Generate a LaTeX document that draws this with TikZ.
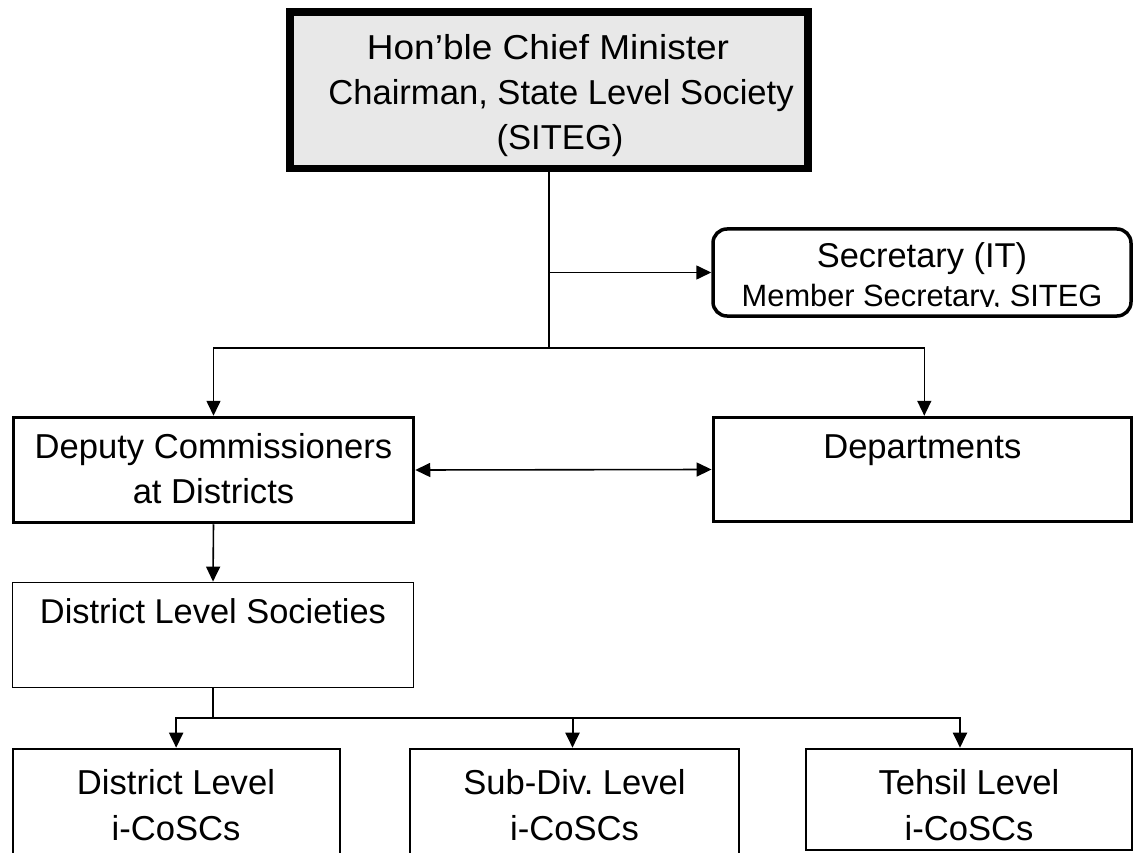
\documentclass[tikz,border=0pt]{standalone}
\usepackage{fontspec}
\setmainfont{Liberation Sans}
\usepackage{graphicx}
\usetikzlibrary{arrows.meta}
\definecolor{boxgray}{HTML}{E8E8E8}
\newcommand{\lbl}[4]{\scalebox{#1}[1]{\fontsize{#2}{#3}\selectfont\begin{tabular}[t]{@{}c@{}}#4\end{tabular}}}
\begin{document}
\begin{tikzpicture}[x=1pt,y=-1pt,
  txt/.style={anchor=base, inner sep=0pt, outer sep=0pt},
  boxthick/.style={draw, line width=3.5pt, inner sep=0pt},
  boxthin/.style={draw, line width=1.8pt, inner sep=0pt},
  link/.style={line width=1.6pt},
  arr/.style={line width=1.6pt, -{Triangle[length=15pt,width=14pt]}},
  arrboth/.style={line width=1.6pt, {Triangle[length=15pt,width=14pt]}-{Triangle[length=15pt,width=14pt]}},
  lowlink/.style={line width=2pt},
  lowarr/.style={line width=2pt, -{Triangle[length=15pt,width=14pt]}}]
\useasboundingbox (0,0) rectangle (1133,853);
\clip (0,0) rectangle (1133,853);

% boxes
\node[draw, fill=boxgray, line width=7pt, inner sep=0pt, minimum width=519pt, minimum height=157pt] (chief) at (549,90.5) {};
\draw[line width=1.5pt] ([xshift=7pt,yshift=-7pt]chief.north west) rectangle ([xshift=-7pt,yshift=7pt]chief.south east);
\node[boxthick, rounded corners=14pt, minimum width=418pt, minimum height=87pt] (sec) at (922,272.5) {};
\node[boxthick, minimum width=400pt, minimum height=105pt] (dc) at (213.5,470) {};
\node[boxthick, minimum width=418pt, minimum height=104pt] (dept) at (922.3,469.5) {};
\node[boxthin, minimum width=401pt, minimum height=105pt] (dls) at (213,635) {};
\node[draw, line width=2pt, inner sep=0pt, minimum width=326.7pt, minimum height=121.3pt] (b1) at (176.15,809.35) {};
\node[draw, line width=2pt, inner sep=0pt, minimum width=329pt, minimum height=121.3pt] (b2) at (574.5,809.35) {};
\node[draw, line width=2pt, inner sep=0pt, minimum width=326pt, minimum height=101.3pt] (b3) at (969,799.35) {};

% connectors
\coordinate (jsec) at (549,272.5);
\coordinate (hub) at (549,348);
\coordinate (j2) at (213,718);
\draw[link] (chief.south) -- (hub);
\draw[arr] (jsec) -- (sec.west);
\draw[arr] (hub) -| (dc.north);
\draw[arr] (hub) -| ([xshift=2pt]dept.north);
\draw[arrboth] (dc.east) -- (dept.west);
\draw[arr] (dc.south) -- (dls.north);
\draw[lowlink] (dls.south) -- (j2);
\draw[lowarr] (j2) -| (b1.north);
\draw[lowarr] (j2) -| ([xshift=-2pt]b2.north);
\draw[lowarr] (j2) -| ([xshift=-9pt]b3.north);

% texts
\node[txt] (t-chief1) at (548,60) {\lbl{1.07}{34.6}{45}{Hon’ble Chief Minister}};
\node[txt] (t-chief2) at (561,105) {\lbl{1}{34.6}{45}{Chairman, State Level Society}};
\node[txt] (t-chief3) at (560,150) {\lbl{1}{34.6}{45}{(SITEG)}};
\node[txt] (t-sec1) at (922,268) {\lbl{1}{34.4}{40}{Secretary (IT)}};
\begin{scope}
\clip (712,280) rectangle (1132,306.3);
\node[txt] (t-sec2) at (922,306) {\lbl{1}{30.8}{36}{Member Secretary, SITEG}};
\end{scope}
\node[txt] (t-dc) at (213.5,458) {\lbl{1}{34.6}{45}{Deputy Commissioners\\at Districts}};
\node[txt] (t-dept) at (922.3,458) {\lbl{1}{34.6}{45}{Departments}};
\node[txt] (t-dls) at (213,623) {\lbl{1}{34.4}{45}{District Level Societies}};
\node[txt] (t-b1) at (176,794) {\lbl{1}{34.6}{46}{District Level\\i-CoSCs}};
\node[txt] (t-b2) at (574.5,794) {\lbl{1}{34.6}{46}{Sub-Div.\ Level\\i-CoSCs}};
\node[txt] (t-b3) at (969,794) {\lbl{1}{34.6}{46}{Tehsil Level\\i-CoSCs}};
\end{tikzpicture}
\end{document}
